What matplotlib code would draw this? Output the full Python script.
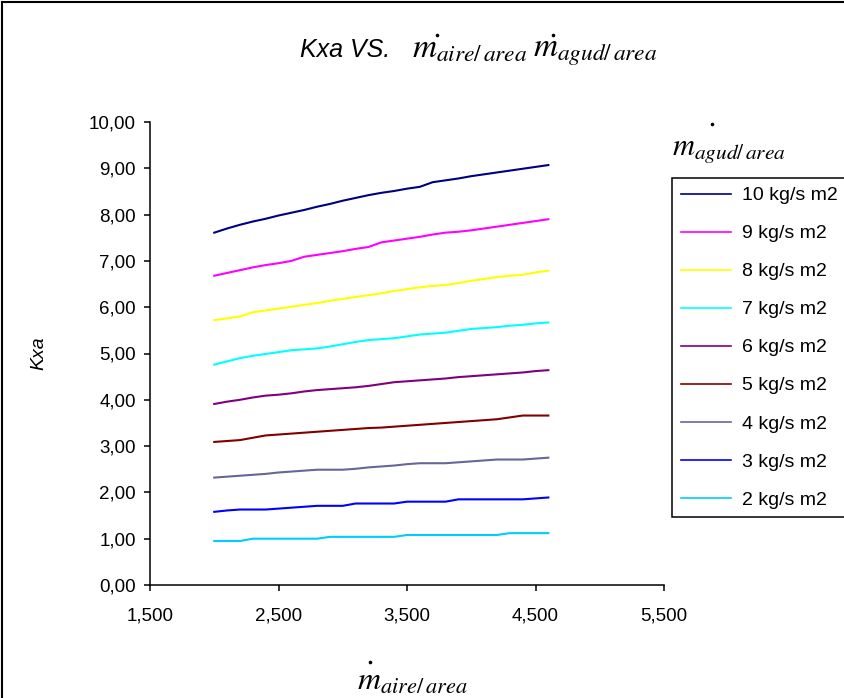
import numpy as np
import matplotlib.pyplot as plt
from matplotlib.lines import Line2D
from matplotlib.ticker import FuncFormatter, FixedLocator, MultipleLocator

W, H = 845, 698
plt.rcParams["font.family"] = ["Liberation Sans", "DejaVu Sans"]
plt.rcParams["mathtext.fontset"] = "stix"

# ── DATA ─────────────────────────────────────────────────────────────────────
aire = [2.0, 2.1, 2.2, 2.3, 2.4, 2.5, 2.6, 2.7, 2.8, 2.9, 3.0, 3.1, 3.2, 3.3,
        3.4, 3.5, 3.6, 3.7, 3.8, 3.9, 4.0, 4.1, 4.2, 4.3, 4.4, 4.5, 4.6]

kxa_10 = [7.61, 7.70, 7.78, 7.85, 7.91, 7.98, 8.04, 8.10, 8.17, 8.23, 8.30, 8.36, 8.42, 8.47,
          8.51, 8.56, 8.60, 8.70, 8.74, 8.78, 8.83, 8.87, 8.91, 8.95, 8.99, 9.03, 9.07]
kxa_9 = [6.68, 6.74, 6.80, 6.86, 6.91, 6.95, 7.00, 7.09, 7.13, 7.17, 7.21, 7.26, 7.30, 7.40,
         7.44, 7.48, 7.52, 7.57, 7.61, 7.63, 7.66, 7.70, 7.74, 7.78, 7.82, 7.86, 7.90]
kxa_8 = [5.72, 5.76, 5.80, 5.89, 5.93, 5.97, 6.01, 6.05, 6.09, 6.14, 6.18, 6.22, 6.26, 6.30,
         6.35, 6.39, 6.43, 6.46, 6.48, 6.52, 6.57, 6.61, 6.65, 6.68, 6.70, 6.75, 6.79]
kxa_7 = [4.76, 4.83, 4.90, 4.95, 4.99, 5.03, 5.07, 5.09, 5.11, 5.15, 5.20, 5.25, 5.29, 5.31,
         5.33, 5.37, 5.41, 5.43, 5.45, 5.49, 5.53, 5.55, 5.57, 5.60, 5.62, 5.65, 5.67]
kxa_6 = [3.91, 3.96, 4.00, 4.05, 4.09, 4.11, 4.14, 4.18, 4.21, 4.23, 4.25, 4.27, 4.30, 4.34,
         4.38, 4.40, 4.42, 4.44, 4.46, 4.49, 4.51, 4.53, 4.55, 4.57, 4.59, 4.62, 4.64]
kxa_5 = [3.09, 3.11, 3.13, 3.18, 3.23, 3.25, 3.27, 3.29, 3.31, 3.33, 3.35, 3.37, 3.39, 3.40,
         3.42, 3.44, 3.46, 3.48, 3.50, 3.52, 3.54, 3.56, 3.58, 3.62, 3.66, 3.66, 3.66]
kxa_4 = [2.32, 2.34, 2.36, 2.38, 2.40, 2.43, 2.45, 2.47, 2.49, 2.49, 2.49, 2.51, 2.54, 2.56,
         2.58, 2.61, 2.63, 2.63, 2.63, 2.65, 2.67, 2.69, 2.71, 2.71, 2.71, 2.73, 2.75]
kxa_3 = [1.58, 1.61, 1.63, 1.63, 1.63, 1.65, 1.67, 1.69, 1.71, 1.71, 1.71, 1.76, 1.76, 1.76,
         1.76, 1.80, 1.80, 1.80, 1.80, 1.85, 1.85, 1.85, 1.85, 1.85, 1.85, 1.87, 1.89]
kxa_2 = [0.95, 0.95, 0.95, 1.00, 1.00, 1.00, 1.00, 1.00, 1.00, 1.04, 1.04, 1.04, 1.04, 1.04,
         1.04, 1.08, 1.08, 1.08, 1.08, 1.08, 1.08, 1.08, 1.08, 1.12, 1.12, 1.12, 1.12]

series = [kxa_10, kxa_9, kxa_8, kxa_7, kxa_6, kxa_5, kxa_4, kxa_3, kxa_2]
labels = ["10 kg/s m2", "9 kg/s m2", "8 kg/s m2", "7 kg/s m2", "6 kg/s m2",
          "5 kg/s m2", "4 kg/s m2", "3 kg/s m2", "2 kg/s m2"]
colors = ["#000080", "#FF00FF", "#FFFF00", "#00FFFF", "#800080",
          "#800000", "#666699", "#0000FF", "#00CCFF"]
x_ticks = [1.5, 2.5, 3.5, 4.5, 5.5]


def dot(px, py, size=2.6):
    # the small "flow rate" dot drawn above each m
    fig.add_artist(Line2D([px / W], [1 - py / H], marker="o", markersize=size,
                          markeredgewidth=0, color="black", linestyle="none",
                          zorder=10))


# ── FIGURE ───────────────────────────────────────────────────────────────────
fig = plt.figure(figsize=(W / 100, H / 100), dpi=100)

# outer chart border (top and left visible)
fig.add_artist(Line2D([2 / W, 1], [1 - 2 / H, 1 - 2 / H], color="black", lw=1.5))
fig.add_artist(Line2D([2 / W, 2 / W], [0, 1 - 2 / H], color="black", lw=1.5))

ax = fig.add_axes([150 / W, 1 - 585 / H, (664 - 150) / W, (585 - 122) / H])

for vals, lab, col in zip(series, labels, colors):
    ax.plot(aire, vals, color=col, lw=1.5, label=lab)

ax.set_xlim(1.5, 5.5)
ax.set_ylim(0, 10)
ax.xaxis.set_major_locator(FixedLocator(x_ticks))
ax.yaxis.set_major_locator(MultipleLocator(1.0))
ax.xaxis.set_major_formatter(FuncFormatter(lambda v, p: f"{v:.3f}".replace(".", ",")))
ax.yaxis.set_major_formatter(FuncFormatter(lambda v, p: f"{v:.2f}".replace(".", ",")))
ax.spines["top"].set_visible(False)
ax.spines["right"].set_visible(False)
for s in ("left", "bottom"):
    ax.spines[s].set_linewidth(1.1)
ax.tick_params(axis="both", direction="out", length=4, width=1.1, labelsize=13.5)
ax.tick_params(axis="y", pad=6)
ax.tick_params(axis="x", pad=12)

ax.set_ylabel("Kxa", fontsize=14, style="italic", labelpad=30)

# title: sans part + math part
fig.text(300 / W, 1 - 57 / H, "Kxa VS.", fontsize=18, style="italic",
         ha="left", va="baseline")
fig.text(412 / W, 1 - 57 / H, r"$m_{aire/\,area}$", fontsize=24,
         ha="left", va="baseline")
fig.text(533 / W, 1 - 57 / H, r"$m_{agud/\,area}$", fontsize=24,
         ha="left", va="baseline")
dot(437, 35)
dot(553, 35)

# x-axis label
fig.text(357 / W, 1 - 690 / H, r"$m_{aire/\,area}$", fontsize=23,
         ha="left", va="baseline")
dot(370, 662)

# legend title
fig.text(672 / W, 1 - 155 / H, r"$m_{agud/\,area}$", fontsize=22,
         ha="left", va="baseline")
dot(712, 124)

leg = fig.legend(loc="upper left", bbox_to_anchor=(672 / W, 1 - 178 / H),
                 frameon=True, fancybox=False, edgecolor="black", framealpha=1,
                 borderaxespad=0, borderpad=0.45, handlelength=2.6,
                 handletextpad=0.55, labelspacing=1.05, fontsize=14)
leg.get_frame().set_linewidth(1.1)
for ln in leg.get_lines():
    ln.set_linewidth(1.2)

fig.savefig("out.png", dpi=100)
